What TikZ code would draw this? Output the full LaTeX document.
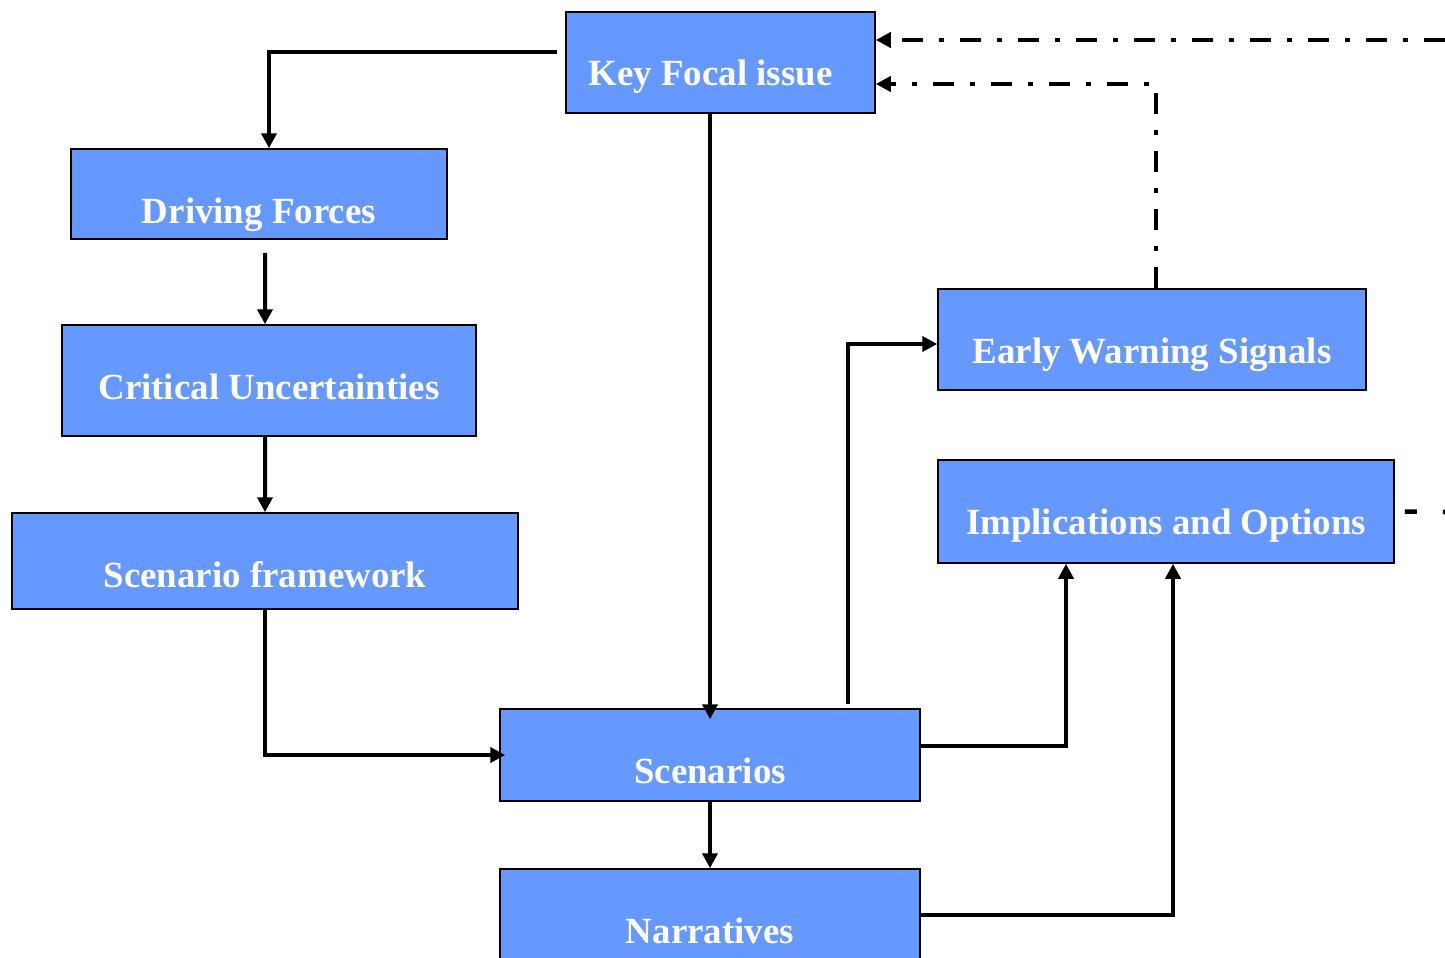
\documentclass[tikz,border=0pt]{standalone}
\usepackage{fontspec}
\setmainfont{Liberation Serif}
\usetikzlibrary{arrows.meta}
\definecolor{boxblue}{HTML}{6699FF}
\definecolor{boxtext}{HTML}{FFFCF0}
\begin{document}
\begin{tikzpicture}[
    box/.style={draw=black, line width=0.03cm, fill=boxblue, text=boxtext,
        font=\fontsize{21}{25}\selectfont\bfseries, inner sep=0pt,
        text height=#1, text depth=0.15cm},
    link/.style={line width=0.08cm, -{Triangle[length=0.3cm,width=0.3cm]}},
    back/.style={line width=0.09cm, dash pattern=on 0.42cm off 0.32cm on 0.1cm off 0.32cm,
        -{Triangle[length=0.3cm,width=0.3cm]}}
    ]
            \useasboundingbox (0,0) rectangle (28.9,-19.14);
            \node[box=1.05cm, minimum width=6.18cm, minimum height=2.02cm] (key) at (14.41,-1.25) {Key Focal issue\hspace*{0.4cm}};
            \node[box=1.31cm, minimum width=7.52cm, minimum height=1.8cm] (drive) at (5.18,-3.88) {Driving Forces};
            \node[box=0.89cm, minimum width=8.28cm, minimum height=2.22cm] (crit) at (5.38,-7.61) {Critical Uncertainties};
            \node[box=1.19cm, minimum width=10.12cm, minimum height=1.92cm] (frame) at (5.30,-11.22) {Scenario framework};
            \node[box=1.27cm, minimum width=8.4cm, minimum height=1.84cm] (scen) at (14.2,-15.1) {Scenarios};
            \node[box=1.27cm, minimum width=8.4cm, minimum height=1.84cm] (narr) at (14.2,-18.3) {Narratives};
            \node[box=1.09cm, minimum width=8.56cm, minimum height=2.02cm] (warn) at (23.04,-6.79) {Early Warning Signals};
            \node[box=1.05cm, minimum width=9.12cm, minimum height=2.06cm] (impl) at (23.32,-10.23) {Implications and Options};
            \coordinate (edgetop) at (28.9,-0.8);
            \coordinate (edgeimpl) at (28.9,-10.24);
            \draw[link] ([xshift=-0.16cm,yshift=0.21cm]key.west) -| ([xshift=0.2cm]drive.north);
            \draw[link] ([xshift=0.12cm,yshift=-0.26cm]drive.south) -- ([xshift=-0.08cm]crit.north);
            \draw[link] ([xshift=-0.08cm]crit.south) -- (frame.north);
            \draw[link] (frame.south) |- ([xshift=0.12cm]scen.west);
            \draw[link] ([xshift=-0.21cm]key.south) -- ([yshift=-0.22cm]scen.north);
            \draw[link] ([xshift=2.76cm,yshift=0.08cm]scen.north) |- ([yshift=-0.09cm]warn.west);
            \draw[link] ([yshift=0.18cm]scen.east) -| ([xshift=-2cm]impl.south);
            \draw[link] (narr.east) -| ([xshift=0.14cm]impl.south);
            \draw[link] (scen.south) -- (narr.north);
            \draw[back] (edgetop) -- ([yshift=0.45cm]key.east);
            \draw[back] ([xshift=0.08cm]warn.north) |- ([yshift=-0.43cm]key.east);
            \draw[line width=0.09cm, dash pattern=on 0.24cm off 0.52cm] ([xshift=0.2cm]impl.east) -- (edgeimpl);
        \end{tikzpicture}
\end{document}
